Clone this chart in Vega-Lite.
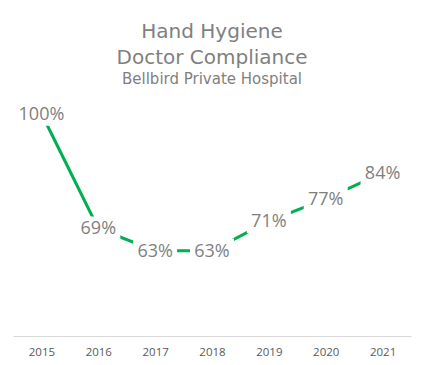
{
  "$schema": "https://vega.github.io/schema/vega-lite/v6.json",
  "width": 398,
  "height": 241,
  "padding": {"left": 13, "right": 13, "top": 22, "bottom": 0},
  "autosize": {"type": "pad"},
  "background": "white",
  "title": {
    "text": ["Hand Hygiene", "Doctor Compliance"],
    "subtitle": "Bellbird Private Hospital",
    "font": "DejaVu Sans",
    "fontSize": 20,
    "fontWeight": "normal",
    "color": "#7f7f7f",
    "lineHeight": 26,
    "subtitleFont": "DejaVu Sans",
    "subtitleFontSize": 15,
    "subtitleColor": "#7f7f7f",
    "subtitlePadding": 4,
    "offset": 8,
    "anchor": "middle"
  },
  "config": {"view": {"stroke": null}},
  "data": {
    "values": [
      {"year": "2015", "value": 1.00},
      {"year": "2016", "value": 0.69},
      {"year": "2017", "value": 0.63},
      {"year": "2018", "value": 0.63},
      {"year": "2019", "value": 0.71},
      {"year": "2020", "value": 0.77},
      {"year": "2021", "value": 0.84}
    ]
  },
  "encoding": {
    "x": {
      "field": "year",
      "type": "ordinal",
      "scale": {"type": "point", "padding": 0.5},
      "axis": {
        "title": null,
        "labelAngle": 0,
        "domainColor": "#d9d9d9",
        "domainWidth": 1,
        "ticks": false,
        "labelColor": "#595959",
        "labelFont": "Open Sans",
        "labelFontSize": 11.5,
        "labelPadding": 10
      }
    },
    "y": {
      "field": "value",
      "type": "quantitative",
      "scale": {"domain": [0.40, 1.05]},
      "axis": null
    }
  },
  "layer": [
    {"mark": {"type": "line", "color": "#00b050", "strokeWidth": 3}},
    {"mark": {"type": "point", "shape": "M-1,-0.55H1V0.55H-1Z", "filled": true, "fill": "white", "opacity": 1, "size": 1936, "strokeWidth": 0}},
    {
      "mark": {"type": "text", "font": "Open Sans", "fontSize": 18, "color": "#7f7f7f", "baseline": "middle", "dy": 1},
      "encoding": {"text": {"field": "value", "type": "quantitative", "format": ".0%"}}
    }
  ]
}
